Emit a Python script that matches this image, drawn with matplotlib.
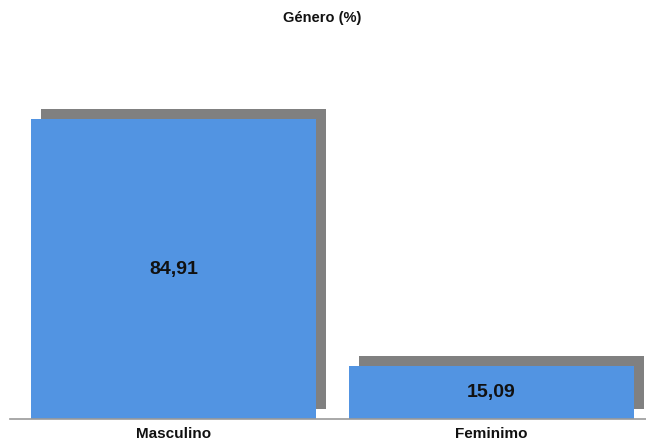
import matplotlib
matplotlib.use("Agg")
import matplotlib.pyplot as plt
import matplotlib.transforms as mtransforms

plt.rcParams['font.family'] = ['Liberation Sans', 'DejaVu Sans']

# genero (%)
categories = ['Masculino', 'Feminimo']
values = [84.91, 15.09]
value_labels = ['84,91', '15,09']

W, H = 646, 441
fig = plt.figure(figsize=(W / 100, H / 100), dpi=100)
ax = fig.add_axes([10 / W, 22 / H, 636 / W, 353.3 / H])

x = list(range(len(categories)))
bar_w = 0.896
blue = '#5294e2'

# drop shadow: same bars shifted 10px right and 10px up
shadow = ax.bar(x, values, width=bar_w, color='#808080', zorder=1)
offset = mtransforms.ScaledTranslation(10 / 100, 10 / 100, fig.dpi_scale_trans)
for p in shadow:
    p.set_transform(ax.transData + offset)
    p.set_clip_on(False)

bars = ax.bar(x, values, width=bar_w, color=blue, zorder=2)

for xi, v, lab in zip(x, values, value_labels):
    ax.text(xi, v / 2, lab, ha='center', va='center', fontsize=14,
            fontweight='bold', color='#111111', zorder=3)

ax.set_xlim(-0.514, 1.486)
ax.set_ylim(0, 100)
ax.set_xticks(x)
ax.set_xticklabels(categories, fontsize=11, fontweight='bold', color='#111111')
ax.tick_params(axis='x', length=0, pad=6)
ax.set_yticks([])
for s in ['top', 'right', 'left']:
    ax.spines[s].set_visible(False)
ax.spines['bottom'].set_color('#999999')
ax.spines['bottom'].set_linewidth(1.2)
ax.spines['bottom'].set_zorder(4)

fig.text(322 / W, 1 - 18 / H, 'Género (%)', ha='center', va='center',
         fontsize=10.5, fontweight='bold', color='#111111')

fig.savefig('out.png', dpi=100)
